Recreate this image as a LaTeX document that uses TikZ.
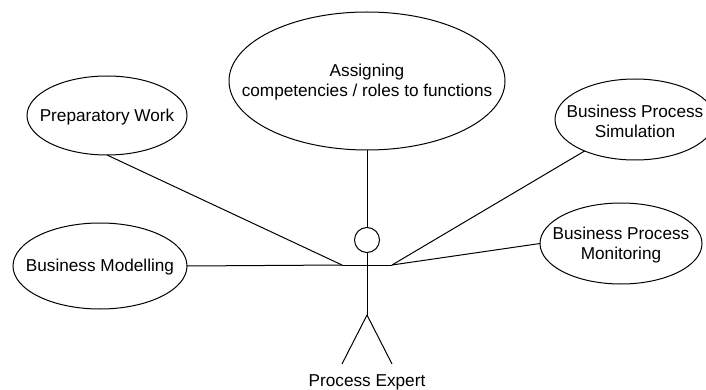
\documentclass[tikz,border=0pt]{standalone}
\usepackage{fontspec}
\setmainfont{Liberation Sans}
\usetikzlibrary{shapes.geometric}
\tikzset{
	usecase/.style={draw, ellipse, inner sep=0pt, outer sep=0pt, line width=1pt},
	every label/.style={align=center, inner sep=0pt, yshift=-1.5pt},
	every node/.append style={font=\fontsize{17.2}{20}\selectfont},
}
\begin{document}
\begin{tikzpicture}[x=1pt, y=-1pt, line width=1pt]
\useasboundingbox (0,0) rectangle (706,390);
\clip (0,0) rectangle (706,390);
\node (assign) [usecase, minimum width=276pt, minimum height=138pt, label={center:Assigning\\competencies / roles to functions}] at (367,81) {};
\node (prep) [usecase, minimum width=160pt, minimum height=79pt, label={center:Preparatory Work}] at (107,115.5) {};
\node (model) [usecase, minimum width=174pt, minimum height=86pt, label={center:Business Modelling}] at (100,266) {};
\node (sim) [usecase, minimum width=160pt, minimum height=81pt, label={center:Business Process\\Simulation}] at (635,119.5) {};
\node (mon) [usecase, minimum width=162pt, minimum height=81pt, label={center:Business Process\\Monitoring}] at (621,243.5) {};
%
\node (head) [draw, circle, minimum size=25pt, inner sep=0pt, outer sep=0pt] at (367,240) {};
\coordinate (lhand) at (342,265);
\coordinate (rhand) at (392,265);
\coordinate (hip) at (367,315);
\coordinate (lfoot) at (342,364);
\coordinate (rfoot) at (392,364);
\node (expert) at (367,382) {Process Expert};
%
\draw (head) -- (hip);
\draw (lhand) -- (rhand);
\draw (hip) -- (lfoot);
\draw (hip) -- (rfoot);
%
\draw (assign) -- (head);
\draw (prep.south) -- (lhand);
\draw (model.east) -- (lhand);
\draw (sim.212) -- (rhand);
\draw (mon.west) -- (rhand);
\end{tikzpicture}
\end{document}
